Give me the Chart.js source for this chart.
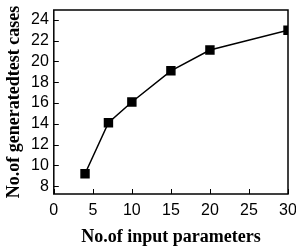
<!DOCTYPE html>
<html lang="en">
<head>
  <meta charset="UTF-8">
  <title>Generated test cases</title>
  <style>
    body { margin: 0; background: #fff; }
    #wrap { width: 296px; height: 246px; position: relative; }
  </style>
</head>
<body>
  <div id="wrap"><canvas id="chart"></canvas></div>

  <script src="https://cdn.jsdelivr.net/npm/chart.js@4.4.1/dist/chart.umd.min.js"></script>
  <script>
    // values
    const inputParams = [4, 7, 10, 15, 20, 30];
    const testCases = [9.2, 14.1, 16.1, 19.1, 21.1, 23.0];
    const xTicks = [0, 5, 10, 15, 20, 25, 30];
    const yTicks = [8, 10, 12, 14, 16, 18, 20, 22, 24];

    // box around the plot plus short inward ticks on bottom and left
    const frame = {
      id: 'frame',
      afterDraw(chart) {
        const { ctx, chartArea: a, scales } = chart;
        ctx.save();
        ctx.strokeStyle = '#000';
        ctx.lineWidth = 1.5;
        ctx.strokeRect(a.left, a.top, a.right - a.left, a.bottom - a.top);
        ctx.lineWidth = 1;
        ctx.beginPath();
        xTicks.forEach(v => {
          const px = Math.round(scales.x.getPixelForValue(v)) + 0.5;
          ctx.moveTo(px, a.bottom);
          ctx.lineTo(px, a.bottom - 5);
        });
        yTicks.forEach(v => {
          const py = Math.round(scales.y.getPixelForValue(v)) + 0.5;
          ctx.moveTo(a.left, py);
          ctx.lineTo(a.left + 5, py);
        });
        ctx.stroke();
        ctx.restore();
      }
    };

    const tickFont = { family: "'Liberation Sans', Arial, sans-serif", size: 16, lineHeight: 1.0 };
    const titleFont = { family: "'Liberation Serif', 'Times New Roman', serif", size: 18, weight: 'bold', lineHeight: 1.0 };

    new Chart(document.getElementById('chart'), {
      type: 'line',
      data: {
        datasets: [{
          data: inputParams.map((x, i) => ({ x, y: testCases[i] })),
          borderColor: '#000',
          backgroundColor: '#000',
          borderWidth: 1.5,
          pointStyle: 'rect',
          pointRadius: 5.6,
          tension: 0
        }]
      },
      options: {
        responsive: true,
        maintainAspectRatio: false,
        animation: false,
        layout: { padding: { top: 10, right: 0, left: 5, bottom: 0 } },
        plugins: { legend: { display: false }, tooltip: { enabled: false } },
        scales: {
          x: {
            type: 'linear',
            min: 0,
            max: 30,
            afterBuildTicks: axis => { axis.ticks = xTicks.map(v => ({ value: v })); },
            afterFit: axis => { axis.paddingRight = 8; },
            grid: { display: false, drawTicks: false },
            border: { display: false },
            ticks: { color: '#000', font: tickFont, padding: 9, maxRotation: 0, autoSkip: false },
            title: { display: true, text: 'No.of input parameters', color: '#000', font: titleFont, padding: { top: 0, bottom: 0 } }
          },
          y: {
            min: 7.25,
            max: 24.95,
            afterBuildTicks: axis => { axis.ticks = yTicks.map(v => ({ value: v })); },
            afterFit: axis => { axis.paddingTop = 0; },
            grid: { display: false, drawTicks: false },
            border: { display: false },
            ticks: { color: '#000', font: tickFont, padding: 5, autoSkip: false },
            title: { display: true, text: 'No.of generatedtest cases', color: '#000', font: titleFont, padding: { top: 0, bottom: 3 } }
          }
        }
      },
      plugins: [frame]
    });
  </script>
</body>
</html>
